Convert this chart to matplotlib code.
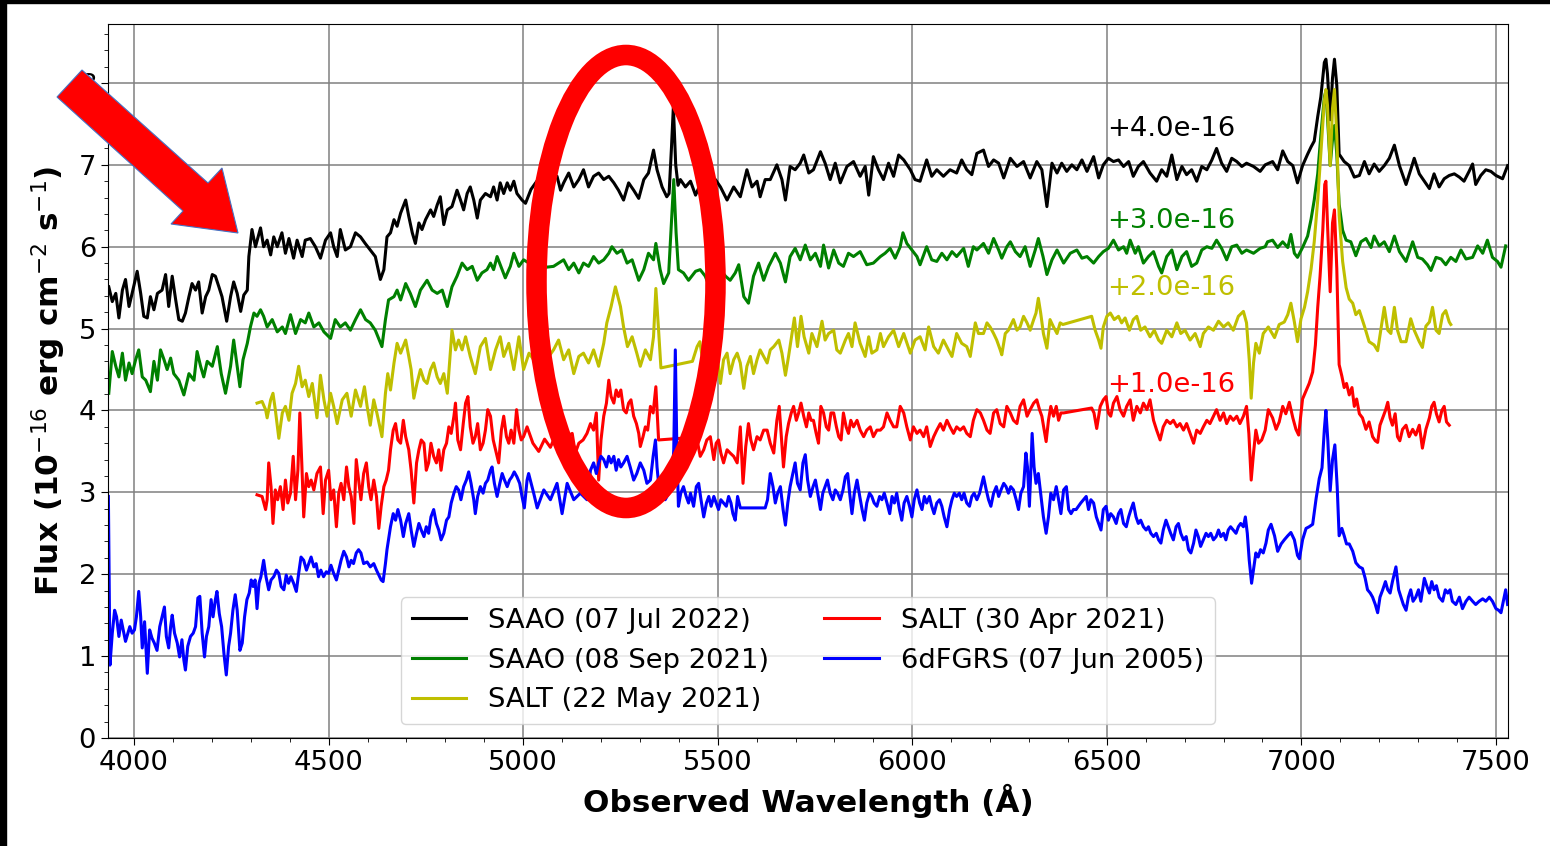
import numpy as np
import matplotlib
matplotlib.use("Agg")
import matplotlib.pyplot as plt
from matplotlib.patches import Ellipse, Polygon, Rectangle
from matplotlib.ticker import MultipleLocator

# (observed wavelength [A], flux [1e-16 erg cm-2 s-1]),
# before the vertical offsets are added
saao_jul22 = [
    (3935, 1.51), (3944, 1.33), (3953, 1.43), (3961, 1.13), (3970, 1.47), (3978, 1.60), (3987, 1.27),
    (3995, 1.43), (4008, 1.70), (4017, 1.43), (4025, 1.15), (4034, 1.13), (4042, 1.39), (4051, 1.23),
    (4060, 1.43), (4072, 1.47), (4081, 1.66), (4089, 1.27), (4098, 1.64), (4107, 1.35), (4115, 1.11),
    (4124, 1.09), (4132, 1.19), (4141, 1.39), (4149, 1.55), (4158, 1.47), (4166, 1.57), (4175, 1.19),
    (4184, 1.39), (4192, 1.47), (4201, 1.66), (4209, 1.64), (4218, 1.51), (4226, 1.39), (4238, 1.09),
    (4248, 1.39), (4256, 1.57), (4265, 1.43), (4274, 1.21), (4282, 1.41), (4291, 1.47), (4295, 1.88),
    (4303, 2.21), (4312, 2.00), (4325, 2.23), (4333, 2.00), (4342, 2.08), (4351, 1.90), (4359, 2.12),
    (4368, 2.00), (4380, 2.17), (4389, 1.92), (4398, 2.10), (4410, 1.86), (4419, 2.08), (4432, 1.88),
    (4440, 2.08), (4453, 2.10), (4466, 2.00), (4479, 1.86), (4492, 2.08), (4505, 2.17), (4513, 2.00),
    (4522, 1.88), (4530, 2.21), (4543, 1.96), (4556, 2.00), (4569, 2.17), (4582, 2.12), (4594, 2.04),
    (4607, 1.96), (4620, 1.88), (4633, 1.60), (4642, 1.72), (4650, 2.12),
    (4659, 2.17), (4668, 2.33), (4676, 2.25), (4685, 2.41), (4698, 2.57), (4706, 2.37), (4715, 2.17),
    (4723, 2.04), (4732, 2.29), (4740, 2.21), (4749, 2.33), (4762, 2.45), (4770, 2.37), (4779, 2.51),
    (4787, 2.61), (4796, 2.27), (4805, 2.45), (4817, 2.49), (4830, 2.69), (4839, 2.57), (4847, 2.45),
    (4856, 2.65), (4864, 2.73), (4873, 2.57), (4882, 2.35), (4890, 2.57), (4903, 2.65), (4916, 2.61),
    (4924, 2.73), (4933, 2.57), (4941, 2.78), (4950, 2.65), (4959, 2.78), (4967, 2.69), (4976, 2.80),
    (4984, 2.65), (4997, 2.57), (5006, 2.53), (5020, 2.70), (5035, 2.80), (5050, 2.65), (5065, 2.78),
    (5080, 2.85), (5087, 2.86), (5096, 2.69), (5104, 2.78), (5117, 2.90), (5130, 2.73), (5143, 2.82),
    (5155, 2.94), (5168, 2.73), (5181, 2.86), (5194, 2.90), (5207, 2.82), (5220, 2.86), (5233, 2.78),
    (5245, 2.69), (5258, 2.57), (5271, 2.78), (5284, 2.69), (5297, 2.59), (5310, 2.82), (5322, 2.90),
    (5335, 3.18), (5344, 2.94), (5357, 2.73), (5369, 2.61), (5375, 2.65), (5381, 3.20), (5386, 3.71),
    (5392, 3.00), (5398, 2.75),
    (5404, 2.82), (5417, 2.73), (5430, 2.80), (5443, 2.63), (5455, 2.76), (5468, 2.61), (5481, 2.69),
    (5494, 2.82), (5507, 2.73), (5524, 2.57), (5541, 2.73), (5558, 2.61), (5575, 2.94), (5588, 2.73),
    (5601, 2.80), (5609, 2.61), (5622, 2.82), (5635, 2.82), (5652, 3.00), (5665, 2.82), (5674, 2.57),
    (5686, 2.98), (5699, 2.94), (5712, 3.02), (5721, 3.12), (5734, 2.90), (5746, 2.94), (5764, 3.16),
    (5776, 3.02), (5789, 2.82), (5802, 3.02), (5815, 2.78), (5832, 2.98), (5849, 3.04), (5866, 2.86),
    (5879, 2.98), (5888, 2.63), (5900, 3.10), (5913, 2.94), (5926, 2.82), (5939, 3.02), (5952, 2.86),
    (5965, 3.12), (5978, 3.06), (5995, 2.94), (6007, 2.82), (6020, 2.80), (6037, 3.06), (6050, 2.86),
    (6063, 2.94), (6080, 2.86), (6097, 2.94), (6114, 2.90), (6127, 3.06), (6140, 2.94), (6153, 2.88),
    (6166, 3.14),
    (6183, 3.18), (6196, 2.98), (6209, 3.06), (6222, 3.02), (6235, 2.84), (6252, 3.08), (6269, 2.98),
    (6286, 3.04), (6303, 2.84), (6320, 3.04), (6333, 2.94), (6346, 2.49), (6359, 3.02), (6372, 2.90),
    (6384, 3.02), (6397, 2.92), (6410, 3.00), (6423, 2.94), (6436, 3.06), (6449, 2.92), (6466, 3.10),
    (6479, 2.84), (6491, 3.00), (6504, 3.08), (6517, 3.04), (6530, 3.06), (6543, 2.98), (6556, 3.04),
    (6568, 2.86), (6581, 2.98), (6594, 3.04), (6611, 2.90), (6628, 2.80), (6641, 2.94), (6654, 2.86),
    (6667, 3.12), (6680, 2.82), (6693, 2.98), (6705, 2.88), (6718, 2.94), (6731, 2.80), (6744, 2.98),
    (6757, 2.94), (6770, 3.06), (6782, 3.20), (6795, 3.02), (6808, 2.92), (6821, 3.08), (6834, 3.04),
    (6847, 2.98), (6859, 3.02), (6877, 2.98), (6894, 2.92), (6907, 3.00),
    (6926, 3.04), (6939, 2.94), (6952, 3.17), (6965, 3.04), (6978, 2.99), (6990, 2.78), (7003, 2.99),
    (7016, 3.13), (7025, 3.22), (7033, 3.29), (7042, 3.59), (7050, 3.83), (7059, 4.25), (7063, 4.29),
    (7067, 4.11), (7074, 3.55), (7080, 4.06), (7085, 4.29), (7091, 3.97), (7097, 3.13), (7110, 3.04),
    (7123, 2.99), (7136, 2.85), (7149, 2.87), (7162, 3.04), (7174, 2.89), (7187, 3.01), (7200, 2.92),
    (7213, 2.99), (7226, 3.08), (7239, 3.24), (7252, 2.99), (7269, 2.76), (7281, 2.94), (7290, 3.08),
    (7303, 2.89), (7316, 2.80), (7329, 2.71), (7341, 2.89), (7354, 2.73), (7367, 2.83), (7380, 2.87),
    (7393, 2.89), (7406, 2.85), (7418, 2.80), (7431, 2.92), (7440, 3.01), (7448, 2.76), (7461, 2.87),
    (7474, 2.94), (7487, 2.92), (7500, 2.87), (7517, 2.83), (7530, 2.99),
]

saao_sep21 = [
    (3935, 1.21), (3944, 1.72), (3953, 1.54), (3961, 1.41), (3970, 1.70), (3978, 1.37), (3987, 1.58),
    (3995, 1.45), (4004, 1.62), (4012, 1.74), (4021, 1.41), (4030, 1.37), (4042, 1.23), (4051, 1.60),
    (4060, 1.37), (4068, 1.74), (4077, 1.62), (4085, 1.50), (4094, 1.64), (4102, 1.45), (4115, 1.37),
    (4128, 1.19), (4141, 1.45), (4154, 1.37), (4162, 1.72), (4171, 1.54), (4179, 1.41), (4188, 1.60),
    (4201, 1.54), (4214, 1.78), (4224, 1.45), (4235, 1.21), (4248, 1.54), (4256, 1.86), (4265, 1.54),
    (4272, 1.29), (4280, 1.62), (4291, 1.82), (4299, 2.02), (4308, 2.19), (4316, 2.15), (4325, 2.23),
    (4333, 2.15), (4342, 2.02), (4355, 2.11), (4368, 1.96), (4381, 2.02), (4389, 1.94), (4402, 2.17),
    (4415, 1.94), (4428, 2.11), (4440, 2.07), (4449, 2.19), (4462, 2.02), (4475, 2.07), (4488, 1.96),
    (4505, 1.88), (4517, 2.11), (4530, 2.02), (4543, 2.07), (4556, 1.98), (4569, 2.11), (4582, 2.23),
    (4595, 2.11), (4607, 2.07), (4620, 1.98), (4637, 1.78), (4646, 2.11), (4654, 2.35),
    (4668, 2.39), (4676, 2.47), (4685, 2.35), (4698, 2.55), (4710, 2.43), (4723, 2.27), (4736, 2.47),
    (4753, 2.59), (4766, 2.47), (4779, 2.43), (4792, 2.47), (4805, 2.27), (4817, 2.51), (4830, 2.64),
    (4843, 2.80), (4856, 2.72), (4869, 2.76), (4882, 2.59), (4894, 2.68), (4907, 2.72), (4916, 2.80),
    (4924, 2.72), (4933, 2.88), (4946, 2.72), (4954, 2.62), (4967, 2.76), (4976, 2.92), (4989, 2.76),
    (5001, 2.84), (5015, 2.80), (5030, 2.70), (5045, 2.85), (5060, 2.75), (5078, 2.76), (5091, 2.80),
    (5104, 2.84), (5117, 2.72), (5130, 2.80), (5143, 2.68), (5155, 2.80), (5168, 2.76), (5181, 2.88),
    (5194, 2.80), (5207, 2.84), (5220, 2.92), (5228, 3.00), (5241, 2.92), (5254, 2.96), (5267, 2.80),
    (5280, 2.84), (5297, 2.59), (5310, 2.72), (5322, 2.92), (5335, 2.84), (5341, 3.04), (5352, 2.72),
    (5361, 2.55), (5374, 2.68), (5382, 3.37), (5387, 3.82), (5393, 3.17), (5399, 2.72), (5412, 2.68),
    (5425, 2.59),
    (5443, 2.70), (5455, 2.72), (5468, 2.64), (5477, 2.53), (5490, 2.68), (5507, 2.72), (5520, 2.64),
    (5532, 2.59), (5545, 2.68), (5554, 2.78), (5567, 2.39), (5579, 2.31), (5592, 2.64), (5605, 2.80),
    (5618, 2.59), (5631, 2.76), (5648, 2.92), (5661, 2.80), (5674, 2.57), (5686, 2.88), (5699, 2.98),
    (5712, 2.84), (5725, 3.02), (5738, 2.84), (5751, 2.92), (5764, 2.76), (5772, 3.02), (5785, 2.74),
    (5798, 2.96), (5811, 2.80), (5823, 2.76), (5836, 2.92), (5849, 2.88), (5866, 2.94), (5883, 2.78),
    (5900, 2.80), (5918, 2.88), (5930, 2.92), (5943, 2.98), (5956, 2.86), (5969, 3.00), (5976, 3.17),
    (5986, 3.04), (5999, 2.96), (6012, 2.88), (6020, 2.78), (6037, 3.00), (6050, 2.84), (6063, 2.82),
    (6076, 2.92), (6089, 2.84), (6102, 2.94), (6114, 2.88), (6132, 2.98), (6144, 2.76), (6157, 3.00),
    (6166, 2.96), (6183, 3.04), (6196, 2.92), (6209, 3.10), (6222, 2.96), (6230, 2.86), (6243, 3.00),
    (6252, 3.06), (6265, 2.94), (6277, 2.88), (6290, 3.00), (6303, 2.76), (6316, 2.96), (6324, 3.10),
    (6336, 2.88), (6346, 2.66), (6359, 2.84), (6372, 2.96), (6389, 2.80), (6406, 2.92), (6423, 2.96),
    (6436, 2.86), (6449, 2.88), (6466, 2.80), (6479, 2.88), (6491, 2.94), (6504, 2.98), (6517, 3.08),
    (6530, 2.96), (6543, 3.00), (6551, 2.92), (6560, 3.08), (6573, 2.92), (6581, 3.00), (6594, 2.80),
    (6607, 2.88), (6620, 2.94), (6633, 2.76), (6641, 2.68), (6654, 2.88), (6667, 2.96), (6680, 2.72),
    (6693, 2.88), (6705, 2.94), (6718, 2.76), (6731, 2.80), (6744, 2.96), (6757, 3.00), (6770, 2.98),
    (6782, 3.08), (6795, 2.98), (6808, 2.84), (6821, 3.00), (6834, 3.02), (6847, 2.92), (6859, 2.96),
    (6877, 2.92), (6894, 2.98), (6907, 3.00),
    (6913, 3.06), (6926, 3.08), (6939, 2.99), (6952, 3.06), (6965, 2.99), (6973, 3.15), (6982, 2.92),
    (6990, 2.87), (7003, 2.99), (7016, 3.13), (7025, 3.34), (7033, 3.57), (7042, 3.89), (7050, 4.36),
    (7059, 4.83), (7063, 4.90), (7067, 4.59), (7074, 3.99), (7080, 4.31), (7085, 4.48), (7091, 4.13),
    (7097, 3.52), (7106, 3.20), (7115, 3.08), (7127, 3.06), (7140, 2.89), (7153, 3.06), (7166, 3.10),
    (7179, 2.99), (7187, 3.13), (7200, 3.01), (7213, 3.06), (7226, 2.94), (7239, 3.13), (7252, 2.94),
    (7269, 2.82), (7286, 3.06), (7299, 2.87), (7311, 2.85), (7324, 2.78), (7333, 2.71), (7346, 2.87),
    (7359, 2.85), (7371, 2.78), (7384, 2.87), (7397, 2.82), (7410, 2.96), (7423, 2.85), (7440, 2.87),
    (7453, 3.01), (7466, 2.92), (7478, 3.08), (7491, 2.87), (7504, 2.82), (7513, 2.75), (7525, 3.01),
]

salt_may21 = [
    (4316, 2.09), (4329, 2.11), (4338, 2.01), (4342, 1.91), (4351, 2.13), (4357, 2.21), (4363, 2.01),
    (4372, 1.66), (4381, 1.97), (4389, 2.05), (4398, 1.88), (4406, 2.21), (4415, 2.33), (4423, 2.54),
    (4432, 2.29), (4440, 2.37), (4449, 2.17), (4458, 2.33), (4470, 1.91), (4479, 2.43), (4488, 2.13),
    (4496, 1.93), (4505, 2.21), (4513, 2.05), (4522, 1.84), (4535, 2.13), (4547, 2.21), (4558, 1.93),
    (4569, 2.25), (4582, 2.05), (4592, 2.29), (4599, 2.05), (4607, 1.82), (4616, 2.13), (4624, 1.97),
    (4637, 1.68), (4646, 2.21), (4652, 2.45),
    (4659, 2.25), (4668, 2.58), (4676, 2.82), (4685, 2.70), (4698, 2.86), (4706, 2.66), (4712, 2.50),
    (4719, 2.15), (4727, 2.33), (4736, 2.50), (4745, 2.37), (4753, 2.33), (4762, 2.50), (4770, 2.58),
    (4779, 2.41), (4787, 2.33), (4796, 2.45), (4805, 2.21), (4817, 2.98), (4826, 2.74), (4834, 2.86),
    (4843, 2.74), (4852, 2.90), (4864, 2.66), (4877, 2.45), (4890, 2.78), (4903, 2.88), (4916, 2.50),
    (4929, 2.74), (4941, 2.90), (4950, 2.66), (4963, 2.82), (4976, 2.50), (4989, 2.90), (5001, 2.50),
    (5015, 2.70), (5030, 2.60), (5045, 2.72), (5060, 2.62), (5078, 2.74), (5091, 2.86), (5104, 2.62),
    (5117, 2.74), (5130, 2.45), (5143, 2.66), (5155, 2.70), (5168, 2.58), (5181, 2.74), (5194, 2.54),
    (5207, 2.82), (5215, 3.07), (5226, 3.27), (5237, 3.51), (5250, 3.27), (5258, 3.02), (5268, 2.78),
    (5280, 2.90), (5292, 2.70), (5301, 2.54), (5314, 2.74), (5327, 2.62), (5335, 2.90), (5341, 3.49),
    (5348, 2.98), (5354, 2.52),
    (5435, 2.60), (5447, 2.78), (5454, 2.84), (5464, 2.54), (5472, 2.70), (5481, 2.45), (5490, 2.62),
    (5498, 2.70), (5507, 2.33), (5515, 2.62), (5524, 2.70), (5532, 2.45), (5541, 2.62), (5550, 2.70),
    (5558, 2.58), (5567, 2.27), (5575, 2.54), (5584, 2.66), (5592, 2.45), (5601, 2.62), (5609, 2.74),
    (5618, 2.66), (5627, 2.58), (5635, 2.74), (5644, 2.78), (5657, 2.86), (5665, 2.70), (5674, 2.43),
    (5682, 2.66), (5691, 2.94), (5697, 3.13), (5705, 2.78), (5714, 3.15), (5722, 2.90), (5734, 2.70),
    (5742, 2.94), (5755, 2.78), (5768, 3.09), (5776, 2.86), (5785, 2.94), (5798, 2.98), (5806, 2.74),
    (5815, 2.70), (5828, 2.86), (5836, 2.94), (5845, 2.78), (5853, 3.07), (5866, 2.82), (5879, 2.66),
    (5888, 2.90), (5896, 2.70), (5909, 2.74), (5918, 2.94), (5926, 2.78), (5939, 2.90), (5952, 2.98),
    (5965, 2.78), (5978, 2.94), (5995, 2.70), (6007, 2.86), (6020, 2.90), (6033, 2.74), (6042, 3.02),
    (6055, 2.78), (6067, 2.70), (6080, 2.86), (6093, 2.74), (6102, 2.66), (6114, 2.94), (6127, 2.82),
    (6140, 2.78), (6149, 2.66), (6162, 3.07), (6170, 2.94),
    (6183, 2.94), (6192, 3.07), (6200, 3.02), (6209, 2.94), (6217, 2.86), (6226, 2.74), (6230, 2.68),
    (6239, 2.94), (6247, 2.98), (6260, 3.11), (6269, 2.98), (6277, 3.02), (6286, 3.15), (6295, 3.07),
    (6303, 2.98), (6312, 3.11), (6318, 3.19), (6324, 3.37), (6330, 3.19), (6337, 2.94), (6346, 2.76),
    (6354, 3.11), (6363, 3.02), (6372, 2.94), (6380, 3.07), (6387, 3.05),
    (6461, 3.15), (6470, 2.98), (6479, 2.86), (6485, 2.76), (6491, 3.02), (6500, 3.15), (6509, 3.19),
    (6519, 3.11), (6530, 3.15), (6538, 3.07), (6547, 3.13), (6558, 2.98), (6568, 3.11), (6577, 3.15),
    (6587, 2.98), (6598, 3.02), (6611, 2.90), (6622, 2.98), (6633, 2.86), (6641, 2.82), (6654, 2.98),
    (6667, 2.90), (6680, 3.07), (6690, 2.94), (6701, 2.98), (6714, 2.86), (6727, 2.94), (6740, 2.78),
    (6748, 2.94), (6761, 3.02), (6774, 2.98), (6787, 3.09), (6800, 3.02), (6812, 3.07), (6825, 2.98),
    (6838, 3.15), (6851, 3.21), (6859, 3.07), (6866, 2.62), (6871, 2.15), (6877, 2.58), (6883, 2.82),
    (6892, 2.70), (6902, 2.94), (6915, 3.02),
    (6931, 2.89), (6943, 3.05), (6956, 3.08), (6965, 3.17), (6973, 3.31), (6982, 3.08), (6990, 2.84),
    (6999, 3.12), (7008, 3.26), (7016, 3.45), (7025, 3.73), (7033, 4.06), (7042, 4.57), (7050, 5.13),
    (7059, 5.78), (7063, 5.92), (7067, 5.73), (7074, 4.99), (7080, 5.69), (7085, 5.92), (7091, 5.36),
    (7097, 4.38), (7106, 3.82), (7115, 3.50), (7123, 3.36), (7132, 3.31), (7140, 3.17), (7149, 3.22),
    (7162, 3.03), (7174, 2.84), (7187, 2.80), (7196, 2.73), (7204, 2.98), (7213, 3.26), (7222, 2.98),
    (7230, 2.94), (7239, 3.26), (7247, 2.98), (7256, 2.84), (7269, 2.84), (7281, 3.12), (7290, 2.98),
    (7303, 2.84), (7311, 2.77), (7320, 3.03), (7329, 3.08), (7337, 3.26), (7346, 2.98), (7354, 2.94),
    (7363, 3.17), (7371, 3.22), (7380, 3.08), (7384, 3.05),
]

salt_apr21 = [
    (4316, 1.97), (4329, 1.95), (4338, 1.79), (4342, 1.91), (4346, 2.36), (4352, 2.07), (4357, 1.62),
    (4363, 2.03), (4369, 1.91), (4376, 2.07), (4383, 1.79), (4389, 2.15), (4395, 1.87), (4402, 1.99),
    (4409, 2.44), (4415, 1.91), (4421, 2.27), (4426, 2.97), (4431, 2.36), (4436, 1.70), (4443, 2.23),
    (4449, 2.07), (4455, 2.15), (4462, 2.03), (4470, 2.23), (4479, 2.31), (4486, 1.74), (4492, 2.15),
    (4500, 2.27), (4506, 1.91), (4513, 2.03), (4520, 1.58), (4526, 1.99), (4532, 2.11), (4539, 1.91),
    (4546, 2.31), (4552, 2.07), (4558, 1.95), (4565, 1.62), (4571, 2.40), (4577, 2.15), (4583, 1.91),
    (4590, 2.23), (4597, 2.36), (4603, 2.07), (4609, 1.91), (4616, 2.15), (4623, 1.95), (4629, 1.56),
    (4635, 1.83), (4642, 2.07), (4648, 2.15), (4654, 2.27),
    (4659, 2.52), (4666, 2.76), (4672, 2.84), (4678, 2.64), (4685, 2.60), (4692, 2.88), (4698, 2.68),
    (4706, 2.52), (4712, 2.27), (4719, 1.87), (4726, 2.36), (4732, 2.52), (4738, 2.64), (4745, 2.60),
    (4751, 2.27), (4757, 2.36), (4763, 2.60), (4770, 2.44), (4777, 2.36), (4783, 2.52), (4789, 2.27),
    (4796, 2.52), (4803, 2.60), (4809, 2.80), (4815, 2.72), (4822, 2.93), (4826, 3.09), (4832, 2.64),
    (4839, 2.52), (4846, 2.84), (4852, 3.09), (4858, 3.17), (4864, 2.80), (4871, 2.60), (4877, 2.68),
    (4883, 2.84), (4890, 2.52), (4897, 2.60), (4903, 2.76), (4909, 3.01), (4916, 2.93), (4923, 2.64),
    (4929, 2.52), (4937, 2.36), (4944, 2.76), (4950, 2.93), (4957, 2.68), (4963, 2.60), (4969, 2.76),
    (4976, 2.60), (4983, 3.01), (4989, 2.76), (4995, 2.64), (5001, 2.68), (5010, 2.80), (5025, 2.60),
    (5040, 2.50), (5055, 2.65), (5070, 2.55), (5078, 2.64), (5091, 2.52), (5102, 2.56), (5113, 2.68),
    (5126, 2.72), (5134, 2.48), (5143, 2.60), (5154, 2.64), (5164, 2.72), (5173, 2.84), (5181, 2.76),
    (5188, 2.97), (5194, 2.15), (5200, 2.64), (5207, 2.93), (5214, 3.09), (5220, 3.37), (5226, 3.17),
    (5233, 3.09), (5239, 3.25), (5245, 3.17), (5251, 3.25), (5258, 3.01), (5265, 2.97), (5271, 3.09),
    (5277, 3.13), (5284, 2.93), (5291, 2.84), (5297, 2.72), (5301, 2.56), (5308, 2.68), (5314, 2.80),
    (5320, 2.76), (5327, 3.05), (5334, 2.97), (5341, 3.29), (5348, 2.64),
    (5404, 2.66), (5413, 2.48), (5421, 2.60), (5430, 2.52), (5438, 2.72), (5447, 2.64), (5455, 2.44),
    (5464, 2.52), (5472, 2.64), (5481, 2.68), (5490, 2.40), (5496, 2.60), (5502, 2.64), (5508, 2.48),
    (5515, 2.36), (5524, 2.52), (5532, 2.48), (5541, 2.44), (5550, 2.36), (5558, 2.80), (5565, 2.11),
    (5572, 2.56), (5579, 2.84), (5585, 2.64), (5592, 2.52), (5601, 2.68), (5609, 2.64), (5618, 2.76),
    (5627, 2.76), (5635, 2.60), (5644, 2.48), (5652, 2.88), (5658, 3.05), (5664, 2.64), (5669, 2.31),
    (5676, 2.68), (5682, 2.84), (5689, 2.97), (5695, 3.05), (5702, 2.88), (5708, 2.97), (5714, 3.09),
    (5721, 2.93), (5728, 2.80), (5734, 2.97), (5740, 2.88), (5746, 2.88), (5753, 2.72), (5759, 2.60),
    (5765, 3.05), (5772, 2.97), (5779, 2.80), (5785, 2.76), (5791, 2.97), (5798, 2.97), (5805, 2.80),
    (5811, 2.68), (5817, 2.64), (5823, 2.97), (5830, 2.80), (5836, 2.72), (5842, 2.88), (5849, 2.80),
    (5858, 2.88), (5866, 2.76), (5875, 2.68), (5883, 2.76), (5892, 2.80), (5900, 2.68), (5909, 2.76),
    (5918, 2.76), (5926, 2.80), (5935, 2.97), (5943, 2.88), (5952, 2.80), (5960, 2.80), (5969, 3.05),
    (5978, 2.97), (5986, 2.80), (5995, 2.64), (6003, 2.80), (6012, 2.72), (6020, 2.76), (6029, 2.68),
    (6037, 2.80), (6046, 2.56), (6055, 2.68), (6063, 2.76), (6072, 2.84), (6080, 2.76), (6089, 2.88),
    (6097, 2.80), (6106, 2.72), (6114, 2.80), (6123, 2.76), (6132, 2.80), (6140, 2.72), (6149, 2.68),
    (6157, 2.88), (6166, 3.01),
    (6175, 2.97), (6183, 2.88), (6192, 2.76), (6200, 2.72), (6209, 2.97), (6217, 3.01), (6226, 2.84),
    (6235, 2.80), (6243, 3.05), (6252, 2.97), (6260, 2.88), (6269, 2.84), (6277, 3.05), (6286, 3.13),
    (6295, 2.93), (6303, 3.01), (6312, 3.09), (6320, 3.13), (6327, 3.01), (6333, 2.93), (6339, 2.76),
    (6344, 2.62), (6350, 2.88), (6356, 3.05), (6363, 2.93), (6370, 3.05), (6376, 2.88), (6382, 2.97),
    (6389, 2.97),
    (6461, 3.03), (6467, 2.97), (6474, 2.78), (6483, 3.05), (6491, 3.13), (6498, 3.17), (6504, 2.97),
    (6510, 2.93), (6517, 3.09), (6526, 3.17), (6534, 3.01), (6543, 2.93), (6551, 3.05), (6560, 3.13),
    (6568, 2.88), (6577, 3.05), (6586, 2.97), (6594, 3.09), (6603, 3.01), (6611, 3.13), (6620, 2.88),
    (6628, 2.76), (6637, 2.64), (6645, 2.80), (6654, 2.88), (6663, 2.84), (6671, 2.88), (6680, 2.80),
    (6688, 2.84), (6697, 2.76), (6705, 2.84), (6714, 2.72), (6723, 2.60), (6731, 2.76), (6740, 2.72),
    (6748, 2.80), (6757, 2.88), (6765, 2.84), (6774, 2.93), (6782, 3.01), (6791, 2.88), (6800, 2.97),
    (6808, 2.84), (6817, 2.93), (6825, 2.88), (6834, 2.93), (6842, 2.84), (6851, 2.93), (6859, 3.05),
    (6865, 2.72), (6871, 2.15), (6877, 2.48), (6883, 2.76), (6890, 2.60), (6898, 2.64), (6907, 2.76),
    (6915, 3.01),
    (6926, 2.91), (6935, 2.77), (6943, 2.86), (6952, 3.05), (6960, 2.96), (6969, 3.10), (6978, 2.91),
    (6986, 2.77), (6993, 2.70), (6999, 2.96), (7003, 3.14), (7012, 3.24), (7020, 3.33), (7029, 3.47),
    (7036, 3.80), (7042, 4.26), (7048, 4.64), (7055, 5.20), (7060, 5.76), (7063, 5.80), (7067, 5.29),
    (7074, 4.45), (7080, 5.29), (7085, 5.45), (7091, 4.73), (7097, 3.56), (7104, 3.42), (7110, 3.28),
    (7116, 3.33), (7123, 3.19), (7130, 3.28), (7136, 3.05), (7142, 3.14), (7149, 2.96), (7157, 2.91),
    (7166, 2.77), (7174, 2.86), (7183, 2.68), (7190, 2.63), (7196, 2.61), (7202, 2.82), (7209, 2.91),
    (7216, 3.00), (7222, 3.10), (7228, 2.91), (7234, 2.82), (7241, 2.96), (7247, 2.68), (7253, 2.63),
    (7260, 2.77), (7269, 2.82), (7277, 2.68), (7286, 2.77), (7294, 2.70), (7303, 2.82), (7311, 2.54),
    (7320, 2.77), (7329, 2.91), (7335, 3.05), (7341, 3.10), (7347, 2.96), (7354, 2.86), (7361, 3.00),
    (7367, 3.05), (7373, 2.86), (7380, 2.82),
]

sixdf_jun05 = [
    (3934, 2.95), (3938, 0.89), (3944, 1.28), (3950, 1.56), (3955, 1.48), (3961, 1.24), (3967, 1.44),
    (3972, 1.32), (3978, 1.18), (3984, 1.28), (3989, 1.36), (3995, 1.28), (4001, 1.32), (4006, 1.48),
    (4012, 1.79), (4017, 1.48), (4021, 1.10), (4027, 1.42), (4034, 0.79), (4040, 1.32), (4046, 1.22),
    (4052, 1.16), (4059, 1.07), (4066, 1.36), (4072, 1.48), (4078, 1.60), (4083, 1.24), (4089, 1.10),
    (4094, 1.36), (4098, 1.50), (4104, 1.28), (4111, 1.16), (4117, 0.99), (4123, 1.20), (4128, 0.95),
    (4132, 0.83), (4138, 1.12), (4145, 1.24), (4152, 1.28), (4158, 1.36), (4164, 1.71), (4169, 1.73),
    (4175, 1.28), (4181, 0.99), (4186, 1.24), (4192, 1.36), (4198, 1.69), (4203, 1.48), (4209, 1.69),
    (4213, 1.79), (4219, 1.52), (4225, 1.36), (4231, 1.03), (4237, 0.77), (4243, 1.12), (4248, 1.28),
    (4254, 1.56), (4260, 1.75), (4265, 1.56), (4272, 1.07), (4278, 1.16), (4284, 1.48), (4290, 1.69),
    (4296, 1.77), (4301, 1.93), (4306, 1.85), (4311, 1.93), (4316, 1.58), (4321, 1.89), (4326, 1.97),
    (4333, 2.17), (4339, 1.97), (4346, 1.81), (4352, 1.93), (4359, 1.97), (4366, 2.05), (4372, 2.01),
    (4378, 1.85), (4385, 1.81), (4391, 1.99), (4397, 1.89), (4403, 1.97), (4410, 1.89), (4417, 1.79),
    (4423, 2.01), (4429, 2.21), (4436, 2.17), (4443, 2.05), (4449, 2.13), (4455, 2.21), (4462, 2.09),
    (4468, 2.13), (4474, 1.97), (4480, 2.05), (4487, 1.97), (4494, 2.03), (4500, 2.01), (4506, 2.11),
    (4513, 2.01), (4520, 1.93), (4526, 2.05), (4532, 2.17), (4539, 2.28), (4546, 2.21), (4552, 2.09),
    (4558, 2.17), (4564, 2.13), (4571, 2.26), (4577, 2.30), (4583, 2.26), (4590, 2.13), (4599, 2.15),
    (4607, 2.09), (4616, 2.13), (4623, 2.05), (4629, 1.99), (4635, 1.93), (4640, 1.91), (4646, 2.13),
    (4650, 2.30),
    (4659, 2.58), (4666, 2.74), (4672, 2.66), (4678, 2.79), (4685, 2.66), (4692, 2.46), (4698, 2.62),
    (4706, 2.74), (4712, 2.54), (4719, 2.34), (4726, 2.50), (4732, 2.62), (4738, 2.54), (4745, 2.46),
    (4751, 2.58), (4757, 2.50), (4763, 2.70), (4770, 2.79), (4777, 2.62), (4783, 2.54), (4789, 2.42),
    (4796, 2.50), (4803, 2.66), (4809, 2.70), (4815, 2.87), (4822, 2.99), (4828, 3.07), (4834, 3.03),
    (4840, 2.91), (4847, 3.07), (4854, 3.15), (4860, 3.25), (4866, 3.11), (4873, 2.91), (4877, 2.74),
    (4883, 2.95), (4890, 3.07), (4897, 2.99), (4903, 3.11), (4909, 3.15), (4916, 3.27), (4920, 3.31),
    (4926, 3.11), (4933, 2.95), (4940, 3.11), (4946, 3.23), (4952, 3.15), (4959, 3.07), (4965, 3.15),
    (4971, 3.19), (4977, 3.25), (4984, 3.19), (4991, 3.11), (4997, 2.95), (5003, 2.81), (5010, 3.15),
    (5014, 3.23), (5027, 2.99), (5036, 2.81), (5053, 3.03), (5070, 2.91), (5087, 3.11), (5100, 2.74),
    (5113, 3.11), (5130, 2.91), (5147, 2.99), (5164, 2.91), (5173, 3.27), (5181, 3.36), (5188, 3.23),
    (5194, 3.36), (5200, 3.44), (5207, 3.40), (5214, 3.31), (5220, 3.44), (5226, 3.36), (5233, 3.44),
    (5239, 3.27), (5245, 3.40), (5251, 3.31), (5258, 3.36), (5267, 3.44), (5275, 3.31), (5284, 3.15),
    (5292, 3.23), (5301, 3.36), (5310, 3.27), (5318, 3.11), (5327, 3.15), (5334, 3.44), (5340, 3.64),
    (5344, 3.31), (5348, 3.11), (5357, 2.99), (5365, 2.91), (5374, 2.99), (5382, 3.11), (5387, 3.52),
    (5391, 4.74), (5395, 3.52), (5399, 2.83), (5405, 2.99), (5412, 3.07), (5419, 2.95), (5425, 2.87),
    (5430, 2.99), (5438, 2.83), (5445, 3.07), (5451, 3.11), (5457, 2.91), (5464, 2.70), (5471, 2.87),
    (5477, 2.95), (5483, 2.83), (5490, 2.95), (5496, 2.87), (5502, 2.79), (5508, 2.91), (5515, 2.87),
    (5522, 2.83), (5528, 2.95), (5534, 2.87), (5539, 2.74), (5545, 2.66), (5551, 2.95), (5558, 2.81),
    (5622, 2.81), (5628, 2.91), (5635, 3.23), (5642, 3.07), (5648, 2.87), (5654, 2.99), (5661, 3.07),
    (5668, 2.79), (5674, 2.60), (5680, 2.87), (5686, 3.07), (5693, 3.23), (5699, 3.36), (5705, 3.11),
    (5712, 3.03), (5719, 3.36), (5725, 3.46), (5731, 3.15), (5738, 2.95), (5745, 3.07), (5751, 3.15),
    (5757, 2.99), (5764, 2.79), (5770, 2.99), (5776, 3.07), (5782, 3.15), (5789, 2.99), (5796, 2.91),
    (5802, 3.03), (5808, 2.99), (5815, 2.91), (5822, 3.03), (5828, 3.19), (5834, 3.23), (5839, 2.99),
    (5845, 2.74), (5851, 2.99), (5858, 3.15), (5865, 2.95), (5871, 2.79), (5877, 2.66), (5883, 2.87),
    (5890, 2.99), (5896, 2.95), (5902, 2.87), (5909, 2.83), (5916, 2.95), (5922, 2.91), (5928, 2.99),
    (5935, 2.87), (5942, 2.74), (5948, 2.95), (5954, 2.87), (5960, 2.99), (5967, 2.79), (5973, 2.66),
    (5979, 2.87), (5986, 2.95), (5993, 2.83), (5999, 2.70), (6005, 2.91), (6012, 3.03), (6019, 2.87),
    (6025, 2.79), (6031, 2.95), (6037, 2.87), (6044, 2.95), (6050, 2.83), (6056, 2.74), (6063, 2.87),
    (6070, 2.91), (6076, 2.83), (6082, 2.70), (6089, 2.58), (6096, 2.79), (6102, 2.91), (6108, 2.99),
    (6114, 2.95), (6121, 2.99), (6127, 2.91), (6133, 2.99), (6140, 2.87), (6147, 2.83), (6153, 2.95),
    (6159, 2.99), (6166, 2.91), (6173, 2.99),
    (6183, 3.19), (6190, 3.03), (6196, 2.91), (6202, 2.83), (6209, 2.99), (6216, 3.07), (6222, 2.95),
    (6228, 3.03), (6235, 3.11), (6241, 3.07), (6247, 2.99), (6253, 3.07), (6260, 3.03), (6267, 2.91),
    (6273, 2.79), (6279, 2.99), (6286, 3.07), (6292, 3.48), (6296, 3.31), (6301, 2.83), (6305, 3.31),
    (6308, 3.72), (6313, 3.31), (6318, 3.11), (6324, 3.23), (6330, 2.99), (6337, 2.70), (6344, 2.50),
    (6350, 2.70), (6356, 2.99), (6363, 2.91), (6370, 3.07), (6376, 2.91), (6382, 2.74), (6389, 3.03),
    (6396, 3.07), (6402, 2.79), (6408, 2.74), (6414, 2.79), (6421, 2.79), (6427, 2.83), (6433, 2.87),
    (6440, 2.91), (6447, 2.95), (6453, 2.79), (6459, 2.91), (6466, 2.87), (6473, 2.70), (6479, 2.62),
    (6485, 2.54), (6491, 2.79), (6498, 2.83), (6504, 2.66), (6510, 2.74), (6517, 2.70), (6524, 2.62),
    (6530, 2.74), (6536, 2.79), (6543, 2.62), (6550, 2.58), (6556, 2.70), (6562, 2.79), (6568, 2.87),
    (6575, 2.70), (6581, 2.62), (6587, 2.66), (6594, 2.58), (6601, 2.54), (6607, 2.58), (6613, 2.50),
    (6620, 2.46), (6627, 2.50), (6633, 2.42), (6639, 2.38), (6645, 2.54), (6652, 2.66), (6658, 2.58),
    (6664, 2.50), (6671, 2.42), (6678, 2.58), (6684, 2.62), (6690, 2.50), (6697, 2.42), (6704, 2.46),
    (6710, 2.30), (6716, 2.26), (6723, 2.38), (6729, 2.54), (6735, 2.46), (6741, 2.34), (6748, 2.42),
    (6755, 2.50), (6761, 2.46), (6767, 2.50), (6774, 2.42), (6781, 2.46), (6787, 2.54), (6793, 2.46),
    (6800, 2.50), (6806, 2.42), (6812, 2.54), (6818, 2.58), (6825, 2.54), (6832, 2.50), (6838, 2.58),
    (6844, 2.62), (6851, 2.58), (6856, 2.70), (6861, 2.50), (6866, 2.17), (6872, 1.89), (6878, 2.09),
    (6883, 2.26), (6889, 2.21), (6895, 2.30), (6902, 2.26), (6909, 2.38), (6915, 2.54),
    (6922, 2.61), (6931, 2.47), (6939, 2.28), (6948, 2.37), (6956, 2.42), (6965, 2.47), (6973, 2.51),
    (6982, 2.42), (6990, 2.23), (6995, 2.19), (7003, 2.42), (7012, 2.56), (7020, 2.58), (7029, 2.61),
    (7038, 2.93), (7046, 3.17), (7053, 3.30), (7059, 3.77), (7063, 4.00), (7068, 3.63), (7074, 3.02),
    (7080, 3.40), (7086, 3.58), (7092, 3.07), (7097, 2.47), (7104, 2.56), (7110, 2.47), (7116, 2.37),
    (7123, 2.37), (7132, 2.28), (7140, 2.14), (7149, 2.09), (7157, 2.07), (7164, 1.95), (7170, 1.81),
    (7177, 1.77), (7183, 1.72), (7190, 1.63), (7196, 1.53), (7202, 1.72), (7209, 1.81), (7216, 1.91),
    (7222, 1.81), (7228, 1.77), (7234, 1.91), (7243, 2.09), (7250, 1.81), (7256, 1.72), (7262, 1.63),
    (7269, 1.56), (7275, 1.72), (7281, 1.81), (7287, 1.67), (7294, 1.72), (7301, 1.81), (7307, 1.67),
    (7316, 1.95), (7322, 1.86), (7329, 1.77), (7335, 1.91), (7341, 1.81), (7347, 1.86), (7354, 1.72),
    (7363, 1.67), (7370, 1.81), (7376, 1.77), (7382, 1.81), (7388, 1.67), (7397, 1.63), (7406, 1.72),
    (7414, 1.58), (7423, 1.67), (7431, 1.72), (7440, 1.67), (7448, 1.63), (7457, 1.67), (7466, 1.70),
    (7474, 1.67), (7483, 1.72), (7491, 1.67), (7500, 1.58), (7507, 1.56), (7513, 1.53), (7519, 1.67),
    (7525, 1.81), (7530, 1.63),
]

spectra = [saao_jul22, saao_sep21, salt_may21, salt_apr21, sixdf_jun05]
labels = ["SAAO (07 Jul 2022)", "SAAO (08 Sep 2021)", "SALT (22 May 2021)",
          "SALT (30 Apr 2021)", "6dFGRS (07 Jun 2005)"]
colors = ["k", "g", "y", "r", "b"]
offsets = [4.0, 3.0, 2.0, 1.0, 0.0]       # units of 1e-16
offset_text_y = [7.35, 6.23, 5.41, 4.23]   # baseline of the "+N.0e-16" tags

W, H = 1550, 846
FS = 19.7
fig = plt.figure(figsize=(W / 100, H / 100), dpi=100)
ax = fig.add_axes([108 / W, 1 - 738 / H, 1400 / W, 714 / H])

for spec, lab, col, off in zip(spectra, labels, colors, offsets):
    wave, flux = np.array(spec).T
    ax.plot(wave, flux + off, color=col, lw=2.2, label=lab)

for off, col, ty in zip(offsets[:4], colors[:4], offset_text_y):
    ax.text(6500, ty, "+%.1fe-16" % off, color=col, fontsize=FS, va="baseline")

ax.set_xlim(3933, 7531)
ax.set_ylim(0, 8.72)
ax.xaxis.set_major_locator(MultipleLocator(500))
ax.xaxis.set_minor_locator(MultipleLocator(100))
ax.yaxis.set_major_locator(MultipleLocator(1))
ax.yaxis.set_minor_locator(MultipleLocator(0.2))
ax.tick_params(which="major", labelsize=FS, length=5)
ax.tick_params(which="minor", length=3)
ax.grid(True, which="major", color="grey", lw=1.1)

ax.set_xlabel("Observed Wavelength (Å)", fontsize=22.4, fontweight="bold", labelpad=6)
ax.set_ylabel(r"Flux (10$^{-16}$ erg cm$^{-2}$ s$^{-1}$)", fontsize=22.4,
              fontweight="bold", labelpad=8)

ax.legend(ncol=2, loc="lower center", fontsize=FS, borderaxespad=0.5)


def px(x, y):
    return (x / W, 1 - y / H)


# highlight marks drawn on top of the plot
ring = Ellipse(px(626, 281.5), 179 / W, 453 / H, transform=fig.transFigure,
               fill=False, ec="red", lw=14.8, zorder=5)
fig.add_artist(ring)

arrow_px = [(82, 70), (208, 183), (222, 168), (238, 233), (171, 224), (183, 211), (57, 97)]
arrow = Polygon([px(x, y) for x, y in arrow_px], closed=True, transform=fig.transFigure,
                fc="red", ec="#4472c4", lw=0.8, zorder=5)
fig.add_artist(arrow)

# black screenshot edges
fig.add_artist(Rectangle((0, 1 - 3 / H), 1, 3 / H, transform=fig.transFigure,
                         color="k", zorder=6))
fig.add_artist(Rectangle((0, 0), 6 / W, 1, transform=fig.transFigure,
                         color="k", zorder=6))

fig.savefig("out.png", dpi=100)
